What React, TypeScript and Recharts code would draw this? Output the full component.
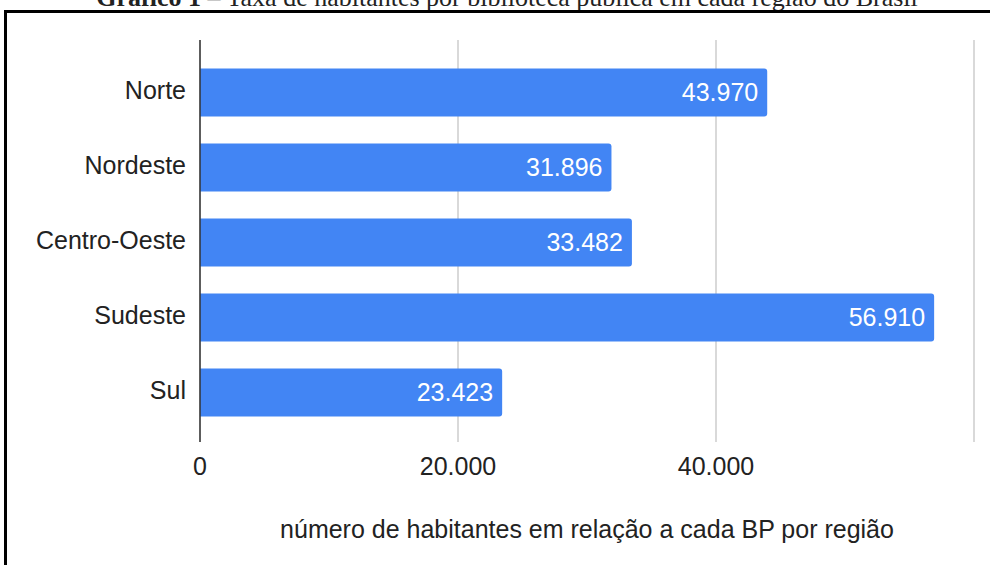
import { BarChart, Bar, XAxis, YAxis, CartesianGrid, LabelList, Label } from "recharts";

const regions = ["Norte", "Nordeste", "Centro-Oeste", "Sudeste", "Sul"];
const habitantes = [43970, 31896, 33482, 56910, 23423];
const xTicks = [0, 20000, 40000, 60000];
const hiddenTicks = [60000];

const data = regions.map((name, i) => ({ name, value: habitantes[i] }));

const FONT = "Arial, 'Liberation Sans', sans-serif";

function fmt(v: number) {
  return String(Math.round(v)).replace(/\B(?=(\d{3})+(?!\d))/g, ".");
}

function XTick(props: any) {
  const { x, y, payload } = props;
  if (hiddenTicks.includes(payload.value)) return null;
  return (
    <text x={x} y={y + 33} textAnchor="middle" fill="#222" fontSize={25} fontFamily={FONT}>
      {fmt(payload.value)}
    </text>
  );
}

function YTick(props: any) {
  const { x, y, payload } = props;
  return (
    <text x={x - 14} y={y + 7} textAnchor="end" fill="#222" fontSize={25} fontFamily={FONT}>
      {payload.value}
    </text>
  );
}

export default function App() {
  return (
    <div style={{ position: "absolute", left: 0, top: 0, width: 990, height: 565, overflow: "hidden", background: "#fff" }}>
      <svg width={990} height={30} style={{ position: "absolute", left: 0, top: 0 }}>
        <text x={507} y={6} textAnchor="middle" fontSize={26} fill="#222" fontFamily="'Liberation Serif', 'Times New Roman', serif">
          <tspan fontWeight="bold">Gráfico 1</tspan>
          <tspan> – Taxa de habitantes por biblioteca pública em cada região do Brasil</tspan>
        </text>
      </svg>
      <div
        style={{
          position: "absolute",
          left: 4,
          top: 10,
          width: 1000,
          height: 600,
          borderTop: "3px solid #000",
          borderLeft: "3px solid #000",
          boxSizing: "border-box",
        }}
      />
      <div style={{ position: "absolute", left: 0, top: 0 }}>
        <BarChart
          width={990}
          height={565}
          data={data}
          layout="vertical"
          margin={{ top: 40, right: 16, bottom: 0, left: 0 }}
          barSize={48}
        >
          <CartesianGrid horizontal={false} stroke="#ccc" strokeWidth={1.5} />
          <XAxis
            type="number"
            domain={[0, 60000]}
            ticks={xTicks}
            axisLine={false}
            tickLine={false}
            tickSize={0}
            tickMargin={0}
            height={123}
            tick={<XTick />}
            interval={0}
          >
            <Label
              value="número de habitantes em relação a cada BP por região"
              position="insideBottom"
              offset={27}
              fill="#222"
              fontSize={25}
              fontFamily={FONT}
            />
          </XAxis>
          <YAxis
            type="category"
            dataKey="name"
            width={200}
            padding={{ top: 14.5, bottom: 12.5 }}
            axisLine={{ stroke: "#333", strokeWidth: 1.5 }}
            tickLine={false}
            tickSize={0}
            tickMargin={0}
            tick={<YTick />}
            interval={0}
          />
          <Bar dataKey="value" fill="#4285F4" radius={[0, 3, 3, 0]} isAnimationActive={false}>
            <LabelList
              dataKey="value"
              position="insideRight"
              offset={9}
              fill="#fff"
              fontSize={25}
              fontFamily={FONT}
              formatter={(v: any) => fmt(Number(v))}
            />
          </Bar>
        </BarChart>
      </div>
    </div>
  );
}
